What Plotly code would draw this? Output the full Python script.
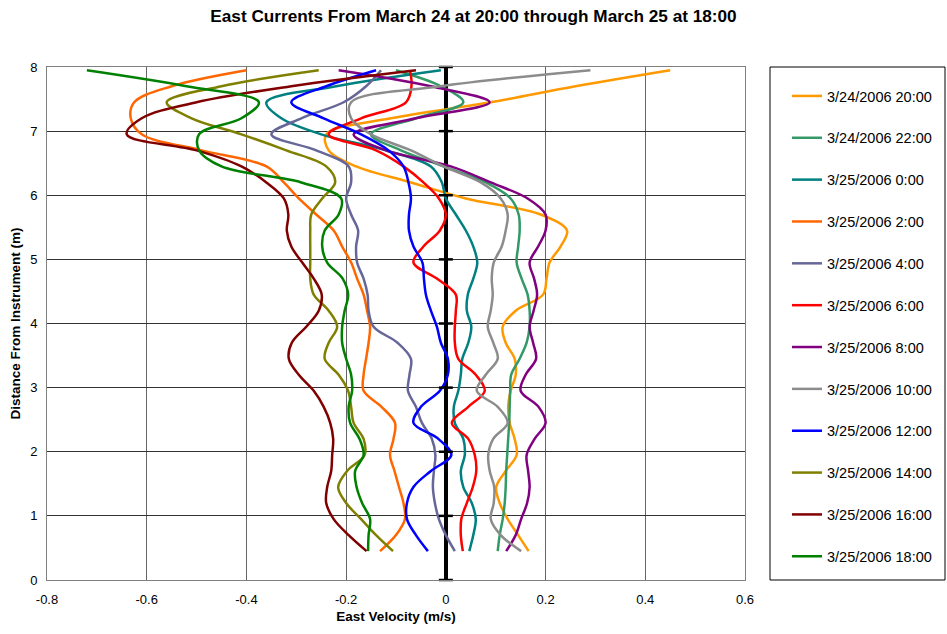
import plotly.graph_objects as go

# Bin heights above the instrument (m)
heights = [0.45, 0.70, 0.95, 1.20, 1.45, 1.70, 1.95, 2.20, 2.45, 2.70, 2.95,
           3.20, 3.45, 3.70, 3.95, 4.20, 4.45, 4.70, 4.95, 5.20, 5.45, 5.70,
           5.95, 6.20, 6.45, 6.70, 6.95, 7.20, 7.45, 7.70, 7.95]

# East velocity profiles (m/s), bottom bin to top bin
v_0324_2000 = [0.166, 0.145, 0.124, 0.108, 0.101, 0.120, 0.142, 0.138, 0.128, 0.125, 0.130,
               0.140, 0.138, 0.120, 0.114, 0.140, 0.195, 0.202, 0.208, 0.230, 0.243, 0.190,
               0.040, -0.070, -0.180, -0.235, -0.240, -0.110, 0.090, 0.260, 0.450]
v_0324_2200 = [0.104, 0.108, 0.114, 0.118, 0.120, 0.121, 0.123, 0.125, 0.127, 0.128, 0.129,
               0.131, 0.148, 0.162, 0.168, 0.168, 0.164, 0.152, 0.142, 0.145, 0.148, 0.146,
               0.130, 0.080, -0.005, -0.090, -0.150, -0.060, 0.035, -0.010, -0.100]
v_0325_0000 = [0.047, 0.055, 0.060, 0.052, 0.035, 0.030, 0.038, 0.035, 0.018, 0.016, 0.025,
               0.030, 0.033, 0.045, 0.051, 0.042, 0.044, 0.055, 0.063, 0.055, 0.040, 0.020,
               0.000, -0.008, -0.030, -0.120, -0.250, -0.330, -0.360, -0.220, -0.010]
v_0325_0200 = [-0.132, -0.100, -0.082, -0.085, -0.094, -0.103, -0.112, -0.105, -0.102, -0.129, -0.165,
               -0.165, -0.160, -0.155, -0.152, -0.158, -0.165, -0.178, -0.190, -0.208, -0.225, -0.260,
               -0.295, -0.325, -0.360, -0.490, -0.610, -0.632, -0.625, -0.550, -0.400]
v_0325_0400 = [0.018, 0.000, -0.014, -0.022, -0.026, -0.024, -0.021, -0.028, -0.048, -0.060, -0.076,
               -0.073, -0.070, -0.097, -0.145, -0.155, -0.157, -0.165, -0.178, -0.180, -0.176, -0.190,
               -0.200, -0.190, -0.195, -0.260, -0.350, -0.290, -0.205, -0.160, -0.130]
v_0325_0600 = [0.034, 0.030, 0.031, 0.042, 0.054, 0.061, 0.058, 0.045, 0.012, 0.045, 0.078,
               0.060, 0.025, 0.018, 0.018, 0.020, 0.020, -0.018, -0.065, -0.045, -0.012, 0.000,
               -0.014, -0.045, -0.085, -0.140, -0.235, -0.170, -0.080, -0.069, -0.072]
v_0325_0800 = [0.121, 0.140, 0.151, 0.163, 0.168, 0.165, 0.162, 0.178, 0.200, 0.186, 0.150,
               0.160, 0.181, 0.175, 0.168, 0.176, 0.183, 0.177, 0.168, 0.185, 0.200, 0.200,
               0.164, 0.090, 0.010, -0.120, -0.185, -0.060, 0.088, -0.030, -0.215]
v_0325_1000 = [0.151, 0.110, 0.090, 0.096, 0.097, 0.088, 0.085, 0.095, 0.124, 0.104, 0.062,
               0.080, 0.104, 0.095, 0.084, 0.090, 0.094, 0.092, 0.096, 0.112, 0.120, 0.124,
               0.110, 0.070, -0.005, -0.070, -0.150, -0.190, -0.190, -0.010, 0.290]
v_0325_1200 = [-0.036, -0.060, -0.078, -0.078, -0.065, -0.030, 0.011, -0.015, -0.065, -0.050, -0.012,
               0.004, 0.004, -0.010, -0.018, -0.030, -0.040, -0.044, -0.047, -0.065, -0.074, -0.074,
               -0.070, -0.075, -0.085, -0.115, -0.170, -0.245, -0.310, -0.240, -0.140]
v_0325_1400 = [-0.106, -0.140, -0.170, -0.200, -0.216, -0.198, -0.163, -0.165, -0.185, -0.190, -0.196,
               -0.215, -0.243, -0.235, -0.218, -0.235, -0.265, -0.272, -0.272, -0.272, -0.272, -0.270,
               -0.248, -0.222, -0.240, -0.320, -0.410, -0.510, -0.560, -0.450, -0.255]
v_0325_1600 = [-0.159, -0.195, -0.225, -0.240, -0.238, -0.230, -0.228, -0.226, -0.232, -0.245, -0.265,
               -0.295, -0.315, -0.309, -0.280, -0.255, -0.249, -0.265, -0.288, -0.310, -0.319, -0.316,
               -0.325, -0.360, -0.410, -0.500, -0.640, -0.610, -0.500, -0.310, -0.060]
v_0325_1800 = [-0.156, -0.155, -0.152, -0.168, -0.179, -0.182, -0.165, -0.173, -0.192, -0.195, -0.188,
               -0.190, -0.200, -0.208, -0.208, -0.203, -0.196, -0.207, -0.238, -0.248, -0.243, -0.215,
               -0.210, -0.290, -0.450, -0.495, -0.495, -0.410, -0.375, -0.520, -0.720]

series_names = ["3/24/2006 20:00", "3/24/2006 22:00", "3/25/2006 0:00", "3/25/2006 2:00",
                "3/25/2006 4:00", "3/25/2006 6:00", "3/25/2006 8:00", "3/25/2006 10:00",
                "3/25/2006 12:00", "3/25/2006 14:00", "3/25/2006 16:00", "3/25/2006 18:00"]
series_values = [v_0324_2000, v_0324_2200, v_0325_0000, v_0325_0200, v_0325_0400, v_0325_0600,
                 v_0325_0800, v_0325_1000, v_0325_1200, v_0325_1400, v_0325_1600, v_0325_1800]
series_colors = ["#FF9900", "#339966", "#008080", "#FF6600", "#666699", "#FF0000",
                 "#800080", "#8C8C8C", "#0000FF", "#808000", "#800000", "#008000"]

x_ticks = [-0.8, -0.6, -0.4, -0.2, 0, 0.2, 0.4, 0.6]
x_tick_labels = ["-0.8", "-0.6", "-0.4", "-0.2", "0", "0.2", "0.4", "0.6"]
y_ticks = [0, 1, 2, 3, 4, 5, 6, 7, 8]

FONT = "Arial, Liberation Sans, sans-serif"

fig = go.Figure()
for i, (name, vals, col) in enumerate(zip(series_names, series_values, series_colors)):
    fig.add_trace(go.Scatter(
        x=vals, y=heights, mode="lines", name=name,
        line=dict(color=col, width=2.5, shape="spline", smoothing=1.0),
        legendgroup="g%d" % i,
    ))

# tick marks on the zero (value) axis
fig.add_trace(go.Scatter(
    x=[0] * len(y_ticks), y=y_ticks, mode="markers", showlegend=False, hoverinfo="skip",
    marker=dict(symbol="line-ew", size=10, line=dict(color="black", width=2.5)),
    cliponaxis=False,
))

L, R, T, B = 47, 202, 67, 54
W, H = 947, 634
pw = W - L - R
fig.update_layout(
    width=W, height=H,
    margin=dict(l=L, r=R, t=T, b=B, autoexpand=False),
    paper_bgcolor="white", plot_bgcolor="white",
    font=dict(family=FONT, size=12, color="black"),
    title=dict(text="<b>East Currents From March 24 at 20:00 through March 25 at 18:00</b>",
               x=0.5, xref="container", xanchor="center",
               y=1 - 16 / H, yref="container", yanchor="middle",
               font=dict(size=17.2, family=FONT, color="black")),
    showlegend=True,
    legend=dict(x=(787 - L) / pw, xanchor="left", y=1 - 13 / (H - T - B), yanchor="top",
                bgcolor="rgba(0,0,0,0)", borderwidth=0, tracegroupgap=20,
                font=dict(size=14.5, family=FONT, color="black")),
    shapes=[dict(type="rect", xref="paper", yref="paper",
                 x0=(770 - L) / pw, x1=(945 - L) / pw, y0=0, y1=1,
                 line=dict(color="black", width=1), fillcolor="rgba(0,0,0,0)", layer="below")],
)
fig.update_xaxes(
    range=[-0.8, 0.6], tickvals=x_ticks, ticktext=x_tick_labels,
    showgrid=True, gridcolor="#666666", gridwidth=1,
    zeroline=True, zerolinecolor="black", zerolinewidth=4,
    showline=True, linecolor="#808080", linewidth=1, mirror=True,
    ticks="outside", ticklen=7, tickcolor="rgba(0,0,0,0)",
    tickfont=dict(size=13, family=FONT),
    title=dict(text="<b>East Velocity (m/s)</b>", font=dict(size=13.5, family=FONT), standoff=5),
)
fig.update_yaxes(
    range=[0, 8], tickvals=y_ticks,
    showgrid=True, gridcolor="#333333", gridwidth=1, zeroline=False,
    showline=True, linecolor="#808080", linewidth=1, mirror=True,
    ticks="outside", ticklen=6, tickcolor="rgba(0,0,0,0)",
    tickfont=dict(size=13, family=FONT),
    title=dict(text="<b>Distance From Instrument (m)</b>", font=dict(size=13.5, family=FONT), standoff=6),
)

fig.write_html("out.html")
